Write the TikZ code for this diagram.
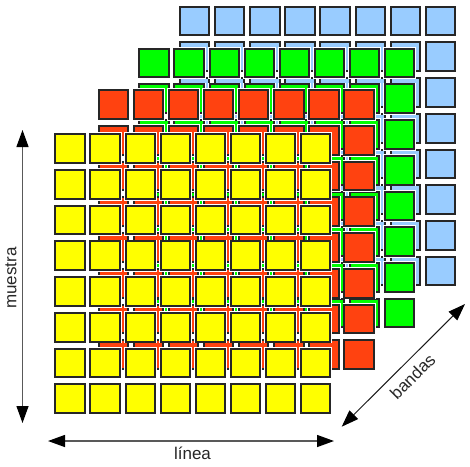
\documentclass[tikz,border=0pt]{standalone}
\usepackage{fontspec}
\setmainfont{Liberation Sans}
\usetikzlibrary{arrows.meta}
\definecolor{cyel}{HTML}{FFFF00}
\definecolor{cred}{HTML}{FF4210}
\definecolor{cgrn}{HTML}{00FF00}
\definecolor{cblu}{HTML}{99CCFF}
\begin{document}
\begin{tikzpicture}[x=1pt,y=-1pt,
  cell/.style={fill=#1, draw=black!85, line width=2pt},
  halo/.style={draw=white, line width=3.8pt},
  axis/.style={draw=black!65, line width=1.3pt,
    {Triangle[length=17pt,width=12pt,color=black]}-{Triangle[length=17pt,width=12pt,color=black]}},
  diag/.style={draw=black!90, line width=1pt,
    {Triangle[length=17pt,width=12pt,color=black]}-{Triangle[length=17pt,width=12pt,color=black]}},
  lbl/.style={font=\fontsize{17}{20}\selectfont, text=black!85, inner sep=0pt}]
\useasboundingbox (0,0) rectangle (470,466);
\foreach \c/\ox/\oy in {cblu/179/5.7, cgrn/138.3/47.7, cred/97.7/89.3, cyel/54.3/133.3} {
  \foreach \i in {0,...,7} {
    \foreach \j in {0,...,7} {
      \path[halo] ({\ox+\i*35.1+1},{\oy+\j*35.7+1}) rectangle ++(29.3,28.7);
      \path[cell=\c] ({\ox+\i*35.1+1},{\oy+\j*35.7+1}) rectangle ++(29.3,28.7);
    }
  }
}
\coordinate (mtop) at (22.5,130);
\coordinate (mbot) at (22.5,423);
\coordinate (lleft) at (48,441);
\coordinate (lright) at (334,441);
\coordinate (bbot) at (341.7,426.7);
\coordinate (btop) at (465,304);
\draw[axis] (mbot) -- (mtop);
\draw[axis] (lleft) -- (lright);
\draw[diag] (bbot) -- (btop);
\node[lbl, rotate=90] (muestra) at (11,278) {muestra};
\node[lbl, anchor=base] (linea) at (192.5,459) {línea};
\node[lbl, rotate=45] (bandas) at (412.5,376.5) {bandas};
\end{tikzpicture}
\end{document}
